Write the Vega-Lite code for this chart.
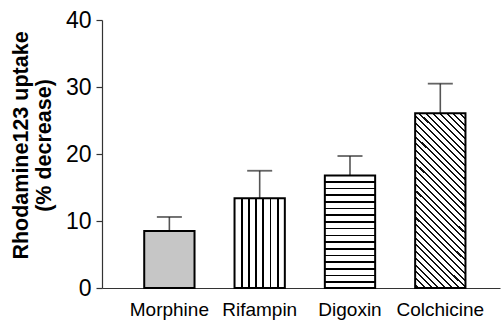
{
  "$schema": "https://vega.github.io/schema/vega-lite/v6.json",
  "width": 398,
  "height": 268,
  "autosize": {"type": "none"},
  "padding": {"left": 102, "top": 20, "right": 4, "bottom": 32},
  "background": "white",
  "config": {"view": {"stroke": null}, "font": "Liberation Sans"},
  "data": {"values": [
    {"drug": "Morphine", "mean": 8.5, "upper": 10.6},
    {"drug": "Rifampin", "mean": 13.4, "upper": 17.5},
    {"drug": "Digoxin", "mean": 16.8, "upper": 19.7},
    {"drug": "Colchicine", "mean": 26.1, "upper": 30.5}
  ]},
  "encoding": {
    "x": {
      "field": "drug", "type": "nominal",
      "sort": ["Morphine", "Rifampin", "Digoxin", "Colchicine"],
      "scale": {"paddingInner": 0.443, "paddingOuter": 0.425, "align": 0.55},
      "axis": {
        "title": null, "ticks": false, "labelAngle": 0,
        "labelFont": "Liberation Sans", "labelFontSize": 19, "labelColor": "#000",
        "labelPadding": 12, "domainColor": "#333", "domainWidth": 1.2
      }
    }
  },
  "layer": [
    {
      "mark": {"type": "rule", "color": "#555", "strokeWidth": 1.6},
      "encoding": {
        "y": {"field": "mean", "type": "quantitative"},
        "y2": {"field": "upper"}
      }
    },
    {
      "mark": {"type": "tick", "color": "#222", "size": 25, "thickness": 1.8},
      "encoding": {
        "y": {"field": "upper", "type": "quantitative"}
      }
    },
    {
      "transform": [{"filter": "datum.drug === 'Morphine'"}],
      "mark": {"type": "bar", "fill": "#c6c6c6", "stroke": "#000", "strokeWidth": 2},
      "encoding": {
        "y": {
          "field": "mean", "type": "quantitative",
          "scale": {"domain": [0, 40], "nice": false},
          "axis": {
            "values": [0, 5, 10, 15, 20, 25, 30, 35, 40],
            "labelExpr": "datum.value % 10 === 0 ? datum.label : ''",
            "tickSize": {"condition": {"test": "datum.value % 10 !== 0", "value": 3}, "value": 6},
            "grid": false,
            "labelFont": "Liberation Sans", "labelFontSize": 23, "labelColor": "#000",
            "labelPadding": 5,
            "domainColor": "#333", "domainWidth": 1.2,
            "tickColor": "#333", "tickWidth": 1.2,
            "title": ["Rhodamine123 uptake", "(% decrease)"],
            "titleFont": "Liberation Sans", "titleFontSize": 21.5, "titleFontWeight": "bold",
            "titleColor": "#000", "titleLineHeight": 23.5,
            "titleAngle": 270, "titleAlign": "center", "titleBaseline": "alphabetic",
            "titleX": -75, "titleY": 125
          }
        }
      }
    },
    {
      "transform": [{"filter": "datum.drug === 'Rifampin'"}],
      "mark": {"type": "bar", "stroke": "#000", "strokeWidth": 2,
        "fill": {"gradient": "linear", "x1": 0, "y1": 0, "x2": 1, "y2": 0, "stops": [
          {"offset": 0, "color": "#fff"},
          {"offset": 0.1239, "color": "#fff"}, {"offset": 0.1239, "color": "#000"}, {"offset": 0.1619, "color": "#000"}, {"offset": 0.1619, "color": "#fff"},
          {"offset": 0.2667, "color": "#fff"}, {"offset": 0.2667, "color": "#000"}, {"offset": 0.3047, "color": "#000"}, {"offset": 0.3047, "color": "#fff"},
          {"offset": 0.4096, "color": "#fff"}, {"offset": 0.4096, "color": "#000"}, {"offset": 0.4476, "color": "#000"}, {"offset": 0.4476, "color": "#fff"},
          {"offset": 0.5524, "color": "#fff"}, {"offset": 0.5524, "color": "#000"}, {"offset": 0.5904, "color": "#000"}, {"offset": 0.5904, "color": "#fff"},
          {"offset": 0.6953, "color": "#fff"}, {"offset": 0.6953, "color": "#000"}, {"offset": 0.7333, "color": "#000"}, {"offset": 0.7333, "color": "#fff"},
          {"offset": 0.8381, "color": "#fff"}, {"offset": 0.8381, "color": "#000"}, {"offset": 0.8761, "color": "#000"}, {"offset": 0.8761, "color": "#fff"},
          {"offset": 1, "color": "#fff"}
        ]}},
      "encoding": {"y": {"field": "mean", "type": "quantitative"}}
    },
    {
      "transform": [{"filter": "datum.drug === 'Digoxin'"}],
      "mark": {"type": "bar", "stroke": "#000", "strokeWidth": 2,
        "fill": {"gradient": "linear", "x1": 0, "y1": 0, "x2": 0, "y2": 1, "stops": [
          {"offset": 0, "color": "#fff"},
          {"offset": 0.049, "color": "#fff"}, {"offset": 0.049, "color": "#000"}, {"offset": 0.063, "color": "#000"}, {"offset": 0.063, "color": "#fff"},
          {"offset": 0.1085, "color": "#fff"}, {"offset": 0.1085, "color": "#000"}, {"offset": 0.1225, "color": "#000"}, {"offset": 0.1225, "color": "#fff"},
          {"offset": 0.168, "color": "#fff"}, {"offset": 0.168, "color": "#000"}, {"offset": 0.182, "color": "#000"}, {"offset": 0.182, "color": "#fff"},
          {"offset": 0.2275, "color": "#fff"}, {"offset": 0.2275, "color": "#000"}, {"offset": 0.2415, "color": "#000"}, {"offset": 0.2415, "color": "#fff"},
          {"offset": 0.287, "color": "#fff"}, {"offset": 0.287, "color": "#000"}, {"offset": 0.301, "color": "#000"}, {"offset": 0.301, "color": "#fff"},
          {"offset": 0.3465, "color": "#fff"}, {"offset": 0.3465, "color": "#000"}, {"offset": 0.3605, "color": "#000"}, {"offset": 0.3605, "color": "#fff"},
          {"offset": 0.406, "color": "#fff"}, {"offset": 0.406, "color": "#000"}, {"offset": 0.42, "color": "#000"}, {"offset": 0.42, "color": "#fff"},
          {"offset": 0.4655, "color": "#fff"}, {"offset": 0.4655, "color": "#000"}, {"offset": 0.4795, "color": "#000"}, {"offset": 0.4795, "color": "#fff"},
          {"offset": 0.525, "color": "#fff"}, {"offset": 0.525, "color": "#000"}, {"offset": 0.539, "color": "#000"}, {"offset": 0.539, "color": "#fff"},
          {"offset": 0.5845, "color": "#fff"}, {"offset": 0.5845, "color": "#000"}, {"offset": 0.5985, "color": "#000"}, {"offset": 0.5985, "color": "#fff"},
          {"offset": 0.644, "color": "#fff"}, {"offset": 0.644, "color": "#000"}, {"offset": 0.658, "color": "#000"}, {"offset": 0.658, "color": "#fff"},
          {"offset": 0.7035, "color": "#fff"}, {"offset": 0.7035, "color": "#000"}, {"offset": 0.7175, "color": "#000"}, {"offset": 0.7175, "color": "#fff"},
          {"offset": 0.763, "color": "#fff"}, {"offset": 0.763, "color": "#000"}, {"offset": 0.777, "color": "#000"}, {"offset": 0.777, "color": "#fff"},
          {"offset": 0.8225, "color": "#fff"}, {"offset": 0.8225, "color": "#000"}, {"offset": 0.8365, "color": "#000"}, {"offset": 0.8365, "color": "#fff"},
          {"offset": 0.882, "color": "#fff"}, {"offset": 0.882, "color": "#000"}, {"offset": 0.896, "color": "#000"}, {"offset": 0.896, "color": "#fff"},
          {"offset": 0.9415, "color": "#fff"}, {"offset": 0.9415, "color": "#000"}, {"offset": 0.9555, "color": "#000"}, {"offset": 0.9555, "color": "#fff"},
          {"offset": 1, "color": "#fff"}
        ]}},
      "encoding": {"y": {"field": "mean", "type": "quantitative"}}
    },
    {
      "transform": [{"filter": "datum.drug === 'Colchicine'"}],
      "mark": {"type": "bar", "stroke": "#000", "strokeWidth": 2,
        "fill": {"gradient": "linear", "x1": 0, "y1": 1, "x2": 0.3399, "y2": -0.1888, "stops": [
          {"offset": 0, "color": "#fff"},
          {"offset": 0.0105, "color": "#fff"}, {"offset": 0.0105, "color": "#111"}, {"offset": 0.0195, "color": "#111"}, {"offset": 0.0195, "color": "#fff"},
          {"offset": 0.0405, "color": "#fff"}, {"offset": 0.0405, "color": "#111"}, {"offset": 0.0495, "color": "#111"}, {"offset": 0.0495, "color": "#fff"},
          {"offset": 0.0705, "color": "#fff"}, {"offset": 0.0705, "color": "#111"}, {"offset": 0.0795, "color": "#111"}, {"offset": 0.0795, "color": "#fff"},
          {"offset": 0.1005, "color": "#fff"}, {"offset": 0.1005, "color": "#111"}, {"offset": 0.1095, "color": "#111"}, {"offset": 0.1095, "color": "#fff"},
          {"offset": 0.1305, "color": "#fff"}, {"offset": 0.1305, "color": "#111"}, {"offset": 0.1395, "color": "#111"}, {"offset": 0.1395, "color": "#fff"},
          {"offset": 0.1605, "color": "#fff"}, {"offset": 0.1605, "color": "#111"}, {"offset": 0.1695, "color": "#111"}, {"offset": 0.1695, "color": "#fff"},
          {"offset": 0.1905, "color": "#fff"}, {"offset": 0.1905, "color": "#111"}, {"offset": 0.1995, "color": "#111"}, {"offset": 0.1995, "color": "#fff"},
          {"offset": 0.2205, "color": "#fff"}, {"offset": 0.2205, "color": "#111"}, {"offset": 0.2295, "color": "#111"}, {"offset": 0.2295, "color": "#fff"},
          {"offset": 0.2505, "color": "#fff"}, {"offset": 0.2505, "color": "#111"}, {"offset": 0.2595, "color": "#111"}, {"offset": 0.2595, "color": "#fff"},
          {"offset": 0.2805, "color": "#fff"}, {"offset": 0.2805, "color": "#111"}, {"offset": 0.2895, "color": "#111"}, {"offset": 0.2895, "color": "#fff"},
          {"offset": 0.3105, "color": "#fff"}, {"offset": 0.3105, "color": "#111"}, {"offset": 0.3195, "color": "#111"}, {"offset": 0.3195, "color": "#fff"},
          {"offset": 0.3405, "color": "#fff"}, {"offset": 0.3405, "color": "#111"}, {"offset": 0.3495, "color": "#111"}, {"offset": 0.3495, "color": "#fff"},
          {"offset": 0.3705, "color": "#fff"}, {"offset": 0.3705, "color": "#111"}, {"offset": 0.3795, "color": "#111"}, {"offset": 0.3795, "color": "#fff"},
          {"offset": 0.4005, "color": "#fff"}, {"offset": 0.4005, "color": "#111"}, {"offset": 0.4095, "color": "#111"}, {"offset": 0.4095, "color": "#fff"},
          {"offset": 0.4305, "color": "#fff"}, {"offset": 0.4305, "color": "#111"}, {"offset": 0.4395, "color": "#111"}, {"offset": 0.4395, "color": "#fff"},
          {"offset": 0.4605, "color": "#fff"}, {"offset": 0.4605, "color": "#111"}, {"offset": 0.4695, "color": "#111"}, {"offset": 0.4695, "color": "#fff"},
          {"offset": 0.4905, "color": "#fff"}, {"offset": 0.4905, "color": "#111"}, {"offset": 0.4995, "color": "#111"}, {"offset": 0.4995, "color": "#fff"},
          {"offset": 0.5205, "color": "#fff"}, {"offset": 0.5205, "color": "#111"}, {"offset": 0.5295, "color": "#111"}, {"offset": 0.5295, "color": "#fff"},
          {"offset": 0.5505, "color": "#fff"}, {"offset": 0.5505, "color": "#111"}, {"offset": 0.5595, "color": "#111"}, {"offset": 0.5595, "color": "#fff"},
          {"offset": 0.5805, "color": "#fff"}, {"offset": 0.5805, "color": "#111"}, {"offset": 0.5895, "color": "#111"}, {"offset": 0.5895, "color": "#fff"},
          {"offset": 0.6105, "color": "#fff"}, {"offset": 0.6105, "color": "#111"}, {"offset": 0.6195, "color": "#111"}, {"offset": 0.6195, "color": "#fff"},
          {"offset": 0.6405, "color": "#fff"}, {"offset": 0.6405, "color": "#111"}, {"offset": 0.6495, "color": "#111"}, {"offset": 0.6495, "color": "#fff"},
          {"offset": 0.6705, "color": "#fff"}, {"offset": 0.6705, "color": "#111"}, {"offset": 0.6795, "color": "#111"}, {"offset": 0.6795, "color": "#fff"},
          {"offset": 0.7005, "color": "#fff"}, {"offset": 0.7005, "color": "#111"}, {"offset": 0.7095, "color": "#111"}, {"offset": 0.7095, "color": "#fff"},
          {"offset": 0.7305, "color": "#fff"}, {"offset": 0.7305, "color": "#111"}, {"offset": 0.7395, "color": "#111"}, {"offset": 0.7395, "color": "#fff"},
          {"offset": 0.7605, "color": "#fff"}, {"offset": 0.7605, "color": "#111"}, {"offset": 0.7695, "color": "#111"}, {"offset": 0.7695, "color": "#fff"},
          {"offset": 0.7905, "color": "#fff"}, {"offset": 0.7905, "color": "#111"}, {"offset": 0.7995, "color": "#111"}, {"offset": 0.7995, "color": "#fff"},
          {"offset": 0.8205, "color": "#fff"}, {"offset": 0.8205, "color": "#111"}, {"offset": 0.8295, "color": "#111"}, {"offset": 0.8295, "color": "#fff"},
          {"offset": 0.8505, "color": "#fff"}, {"offset": 0.8505, "color": "#111"}, {"offset": 0.8595, "color": "#111"}, {"offset": 0.8595, "color": "#fff"},
          {"offset": 0.8805, "color": "#fff"}, {"offset": 0.8805, "color": "#111"}, {"offset": 0.8895, "color": "#111"}, {"offset": 0.8895, "color": "#fff"},
          {"offset": 0.9105, "color": "#fff"}, {"offset": 0.9105, "color": "#111"}, {"offset": 0.9195, "color": "#111"}, {"offset": 0.9195, "color": "#fff"},
          {"offset": 0.9405, "color": "#fff"}, {"offset": 0.9405, "color": "#111"}, {"offset": 0.9495, "color": "#111"}, {"offset": 0.9495, "color": "#fff"},
          {"offset": 0.9705, "color": "#fff"}, {"offset": 0.9705, "color": "#111"}, {"offset": 0.9795, "color": "#111"}, {"offset": 0.9795, "color": "#fff"},
          {"offset": 1, "color": "#fff"}
        ]}},
      "encoding": {"y": {"field": "mean", "type": "quantitative"}}
    }
  ]
}
